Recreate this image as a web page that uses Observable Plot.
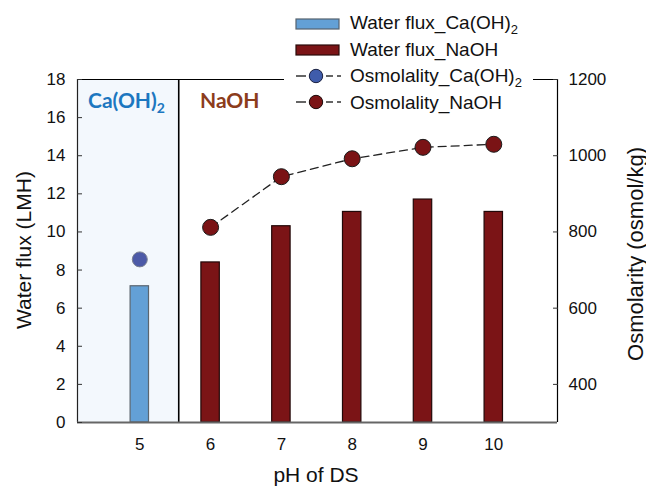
<!DOCTYPE html>
<html><head><meta charset="utf-8">
<script src="https://cdn.jsdelivr.net/npm/d3@7"></script>
<script src="https://cdn.jsdelivr.net/npm/@observablehq/plot@0.6"></script>
<style>
body{margin:0;background:#fff;}
#wrap{position:relative;width:646px;height:487px;}
#wrap svg.overlay{position:absolute;left:0;top:0;pointer-events:none;}
</style></head><body><div id="wrap"></div>
<script>
// ---- data ----
const phCa = [5];
const fluxCa = [7.15];
const osmCa = [728];
const phNa = [6, 7, 8, 9, 10];
const fluxNa = [8.4, 10.3, 11.05, 11.7, 11.05];
const osmNa = [812, 945, 992, 1022, 1030];
const xTicks = [5, 6, 7, 8, 9, 10];
const leftTicks = [0, 2, 4, 6, 8, 10, 12, 14, 16, 18];
const rightTicks = [400, 600, 800, 1000, 1200];
const xDomain = [4.12, 10.9];
const fluxDomain = [0, 18];
const osmDomain = [300, 1200];
const regionSplit = 5.55;
const barHalfWidth = 0.13;
const xTitle = "pH of DS";
const yLeftTitle = "Water flux (LMH)";
const yRightTitle = "Osmolarity (osmol/kg)";
const legendItems = [
  {type: "bar", label: "Water flux_Ca(OH)", sub: "2", fill: "#63a0d6", stroke: "#55626e"},
  {type: "bar", label: "Water flux_NaOH", sub: "", fill: "#7b1416", stroke: "#2a0a0a"},
  {type: "dot", label: "Osmolality_Ca(OH)", sub: "2", fill: "#3f5cab", stroke: "#1a2040"},
  {type: "dot", label: "Osmolality_NaOH", sub: "", fill: "#7b1416", stroke: "#1a0a0a"}
];

const toY = v => fluxDomain[0] + (v - osmDomain[0]) / (osmDomain[1] - osmDomain[0]) * (fluxDomain[1] - fluxDomain[0]);
const fromY = y => osmDomain[0] + (y - fluxDomain[0]) / (fluxDomain[1] - fluxDomain[0]) * (osmDomain[1] - osmDomain[0]);

const caData = phCa.map((p, i) => ({ph: p, flux: fluxCa[i], osm: osmCa[i]}));
const naData = phNa.map((p, i) => ({ph: p, flux: fluxNa[i], osm: osmNa[i]}));

const font = "'Liberation Sans', Arial, sans-serif";

const chart = Plot.plot({
  width: 646, height: 487,
  marginLeft: 77, marginRight: 89, marginTop: 79, marginBottom: 65,
  style: {fontFamily: font, fontSize: "17px", color: "#111", background: "transparent"},
  x: {domain: xDomain},
  y: {domain: fluxDomain},
  marks: [
    Plot.rect([0], {x1: () => xDomain[0], x2: () => regionSplit, y1: () => fluxDomain[0], y2: () => fluxDomain[1], fill: "#f3f8fd"}),
    Plot.rect(caData, {x1: d => d.ph - barHalfWidth, x2: d => d.ph + barHalfWidth, y1: () => 0, y2: "flux", fill: "#63a0d6", stroke: "#5b6670", strokeWidth: 1.2}),
    Plot.rect(naData, {x1: d => d.ph - barHalfWidth, x2: d => d.ph + barHalfWidth, y1: () => 0, y2: "flux", fill: "#7b1416", stroke: "#220808", strokeWidth: 1.2}),
    Plot.ruleX([regionSplit], {stroke: "#000", strokeWidth: 1.6}),
    Plot.ruleY([fluxDomain[1]], {stroke: "#000", strokeWidth: 1.2}),
    Plot.ruleX([xDomain[0]], {stroke: "#222", strokeWidth: 1.2}),
    Plot.ruleX([xDomain[1]], {stroke: "#000", strokeWidth: 1.2}),
    Plot.ruleY([fluxDomain[0]], {stroke: "#666", strokeWidth: 2}),
    Plot.line(naData, {x: "ph", y: d => toY(d.osm), stroke: "#222", strokeWidth: 1.3, strokeDasharray: "8,5"}),
    Plot.dot(caData, {x: "ph", y: d => toY(d.osm), r: 7.5, fill: "#4c5aa7", stroke: "#7a8090", strokeWidth: 1}),
    Plot.dot(naData, {x: "ph", y: d => toY(d.osm), r: 8, fill: "#7a1315", stroke: "#1a1a1a", strokeWidth: 1}),
    Plot.axisY(leftTicks, {anchor: "left", tickSize: -5, tickPadding: 17, label: null, stroke: "#333"}),
    Plot.axisY(rightTicks.map(toY), {anchor: "right", tickSize: -5, tickPadding: 16, label: null, stroke: "#333", tickFormat: v => String(Math.round(fromY(v)))}),
    Plot.axisX(xTicks, {anchor: "bottom", tickSize: 0, tickPadding: 15, label: null})
  ]
});

const wrap = document.getElementById("wrap");
wrap.appendChild(chart);

// ---- overlay: axis titles, region labels + legend ----
const ov = d3.select(wrap).append("svg").attr("class", "overlay").attr("width", 646).attr("height", 487);

ov.append("text").attr("x", 316).attr("y", 474).attr("text-anchor", "middle")
  .attr("dominant-baseline", "central").attr("font-family", font).attr("font-size", 21).attr("fill", "#111").text(xTitle);
ov.append("text").attr("transform", "translate(23,250) rotate(-90)").attr("text-anchor", "middle")
  .attr("dominant-baseline", "central").attr("font-family", font).attr("font-size", 21).attr("fill", "#111").text(yLeftTitle);
ov.append("text").attr("transform", "translate(635,254) rotate(-90)").attr("text-anchor", "middle")
  .attr("dominant-baseline", "central").attr("font-family", font).attr("font-size", 22).attr("fill", "#111").text(yRightTitle);

const lbl1 = ov.append("text").attr("x", 88).attr("y", 108).attr("font-family", "Lato, 'Open Sans', sans-serif")
  .attr("font-weight", "bold").attr("font-size", 21).attr("fill", "#1c77c0");
lbl1.append("tspan").text("Ca(OH)");
lbl1.append("tspan").attr("font-size", 14).attr("dy", 5).text("2");
ov.append("text").attr("x", 200).attr("y", 108).attr("font-family", "Lato, 'Open Sans', sans-serif")
  .attr("font-weight", "bold").attr("font-size", 21).attr("fill", "#8c3c1c").text("NaOH");

ov.append("rect").attr("x", 284).attr("y", 4).attr("width", 249).attr("height", 110).attr("fill", "#fff");
const rowSym = [24, 50, 76, 102];
const rowBase = [28.5, 55.5, 82, 108.5];
legendItems.forEach((it, i) => {
  const g = ov.append("g");
  if (it.type === "bar") {
    g.append("rect").attr("x", 296).attr("y", rowSym[i] - 5).attr("width", 43).attr("height", 10)
      .attr("fill", it.fill).attr("stroke", it.stroke).attr("stroke-width", 1.2);
  } else {
    g.append("line").attr("x1", 296).attr("x2", 341).attr("y1", rowSym[i]).attr("y2", rowSym[i])
      .attr("stroke", "#333").attr("stroke-width", 1.3).attr("stroke-dasharray", "10,20,7,4,4");
    g.append("circle").attr("cx", 316).attr("cy", rowSym[i]).attr("r", 6.7)
      .attr("fill", it.fill).attr("stroke", it.stroke).attr("stroke-width", 1);
  }
  const t = g.append("text").attr("x", 350).attr("y", rowBase[i]).attr("font-family", font)
    .attr("font-size", 19).attr("fill", "#111");
  t.append("tspan").text(it.label);
  if (it.sub) t.append("tspan").attr("font-size", 13).attr("dy", 5).text(it.sub);
});
</script></body></html>
